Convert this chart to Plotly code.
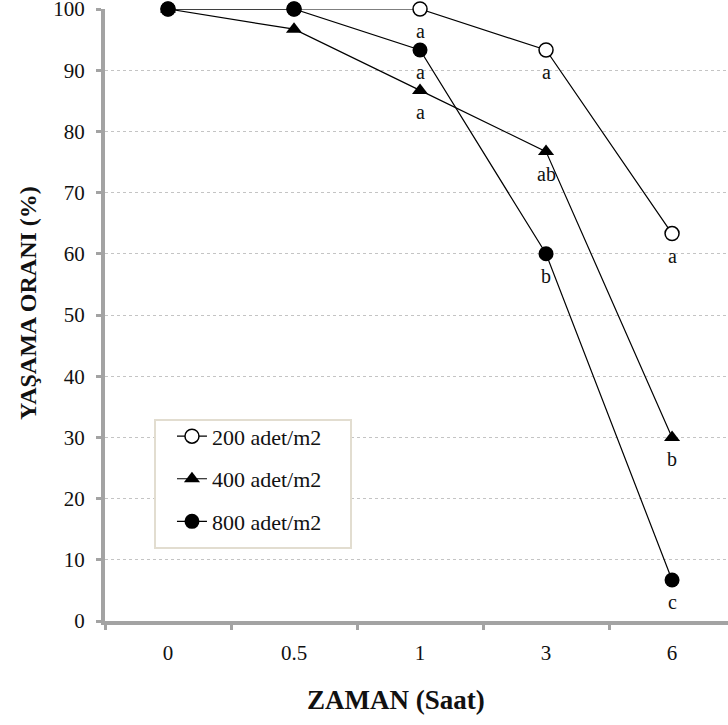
import plotly.graph_objects as go

categories = ["0", "0.5", "1", "3", "6"]
series_names = ["200 adet/m2", "400 adet/m2", "800 adet/m2"]
values_200 = [100, 100, 100, 93.3, 63.3]
values_400 = [100, 96.7, 86.7, 76.7, 30]
values_800 = [100, 100, 93.3, 60, 6.7]
letters_200 = ["", "", "a", "a", "a"]
letters_400 = ["", "", "a", "ab", "b"]
letters_800 = ["", "", "a", "b", "c"]
y_ticks = [0, 10, 20, 30, 40, 50, 60, 70, 80, 90, 100]
x_title = "ZAMAN (Saat)"
y_title = "YAŞAMA ORANI (%)"

FONT = "Liberation Serif"
AX = "#a3a3a3"
TXT = "#111111"

fig = go.Figure()
styles = [
    dict(symbol="circle", color="white", line=dict(color="black", width=1.5), size=14),
    dict(symbol="triangle-up", color="black", size=14),
    dict(symbol="circle", color="black", size=15),
]
all_vals = [values_200, values_400, values_800]
all_letters = [letters_200, letters_400, letters_800]
for i, (name, vals) in enumerate(zip(series_names, all_vals)):
    fig.add_trace(go.Scatter(
        x=categories, y=vals, name=name, mode="lines+markers",
        line=dict(color="black", width=1.2), marker=styles[i],
        cliponaxis=False, legendgroup=f"g{i}",
    ))

for vals, lets in zip(all_vals, all_letters):
    for idx, (v, t) in enumerate(zip(vals, lets)):
        if t:
            fig.add_annotation(x=idx, y=v, xref="x", yref="y", text=t, showarrow=False,
                               yshift=-22, font=dict(family=FONT, size=20, color=TXT))

# axis titles
fig.add_annotation(x=0.467, y=0, xref="paper", yref="paper", yshift=-79, yanchor="middle",
                   text="<b>" + x_title + "</b>", showarrow=False,
                   font=dict(family=FONT, size=27, color=TXT))
fig.add_annotation(x=0, y=0.5, xref="paper", yref="paper", xshift=-77, yshift=12,
                   xanchor="center", yanchor="middle", textangle=-90,
                   text="<b>" + y_title + "</b>", showarrow=False,
                   font=dict(family=FONT, size=24, color=TXT))

# legend box
fig.add_shape(type="rect", xref="paper", yref="paper", x0=0.0803, x1=0.3949, y0=0.1193, y1=0.3284,
              fillcolor="white", line=dict(color="#e2ddd0", width=2), layer="above")

fig.update_layout(
    width=728, height=725,
    margin=dict(l=105, r=0, t=9, b=104, autoexpand=False),
    paper_bgcolor="white", plot_bgcolor="white",
    font=dict(family=FONT, size=21, color=TXT),
    showlegend=True,
    legend=dict(x=0.1075, y=0.336, xanchor="left", yanchor="top",
                bgcolor="rgba(0,0,0,0)", borderwidth=0,
                font=dict(family=FONT, size=22, color=TXT),
                traceorder="grouped", tracegroupgap=11),
    xaxis=dict(type="category", range=[-0.5, 4.444], showgrid=False, automargin=False,
               showline=True, linecolor=AX, linewidth=4,
               ticks="outside", tickson="boundaries", ticklen=5, tickwidth=3, tickcolor=AX,
               tickfont=dict(family=FONT, size=21, color=TXT), ticklabelstandoff=10),
    yaxis=dict(range=[0, 100], tickvals=y_ticks, showgrid=True, gridcolor="#c4c4c4",
               griddash="dot", gridwidth=1, zeroline=False, automargin=False,
               showline=True, linecolor=AX, linewidth=4,
               ticks="outside", ticklen=5, tickwidth=3, tickcolor=AX,
               ticklabeloverflow="allow", ticklabelstandoff=7,
               tickfont=dict(family=FONT, size=21, color=TXT)),
)

fig.write_html("out.html")
